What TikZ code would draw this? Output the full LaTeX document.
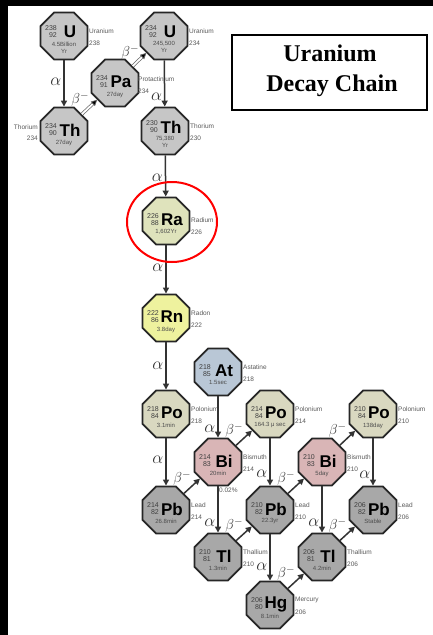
\documentclass[tikz,border=0pt]{standalone}
\usepackage{fontspec}
\setmainfont{Liberation Sans}
\newfontfamily\titlefont{Liberation Serif}
\usetikzlibrary{shapes.geometric,arrows.meta,calc}
\definecolor{grayA}{HTML}{C6C6C6}
\definecolor{grayB}{HTML}{A8A8A8}
\definecolor{raC}{HTML}{DFE3BC}
\definecolor{rnC}{HTML}{EEF29E}
\definecolor{atC}{HTML}{B9C7D6}
\definecolor{poC}{HTML}{D9D8C0}
\definecolor{biC}{HTML}{D9B5B6}
\definecolor{txtC}{HTML}{5A5A5A}
\definecolor{lnC}{HTML}{333333}
\tikzset{
  oct/.style={regular polygon, regular polygon sides=8, minimum size=51pt, inner sep=0pt, draw=black!85, line width=1.8pt},
  mnum/.style={inner sep=0pt, text=black!75, font=\fontsize{7}{7.5}\selectfont},
  sym/.style={inner sep=0pt, text=black, font=\bfseries\fontsize{17}{17}\selectfont},
  hlt/.style={inner sep=0pt, text=black!70, align=center, font=\fontsize{6}{7}\selectfont},
  nlab/.style={inner sep=0pt, text=txtC, font=\fontsize{6.5}{7}\selectfont},
  aarr/.style={draw=lnC, line width=1.5pt, -{Triangle[length=6pt,width=6pt]}},
  barr/.style={draw=lnC, line width=1.5pt, -{Triangle[length=6pt,width=6pt]}},
  harr/.style={draw=black!60, line width=0.7pt, double=white, double distance=1.8pt, -{Triangle[length=6pt,width=6pt,fill=black]}},
  alab/.style={left=2pt, inner sep=0pt, text=lnC, font=\fontsize{16}{16}\selectfont},
  blab/.style={above left=0pt, inner sep=0pt, text=lnC, font=\fontsize{15}{15}\selectfont},
}
% #1 vertical shift, #2 name, #3 x, #4 y, #5 fill, #6 mass, #7 Z, #8 symbol, #9 half-life
\newcommand{\octa}[9][0]{%
  \node[oct, fill=#5] (#2) at (#3,#4) {};
  \node[mnum, anchor=east] (#2m) at ($(#2)+(-7,{-5+(#1)})$) {#6};
  \node[mnum, anchor=east] (#2z) at ($(#2)+(-7,{2.5+(#1)})$) {#7};
  \node[sym] (#2s) at ($(#2)+(6,{-1+(#1)})$) {#8};
  \node[hlt, anchor=north] (#2h) at ($(#2)+(0,{8.5+(#1)})$) {#9};
}
\newcommand{\rlab}[3]{%
  \node[nlab, anchor=west] (#1n) at ($(#1)+(25,-5)$) {#2};
  \node[nlab, anchor=west] (#1a) at ($(#1)+(25,7)$) {#3};
}
\newcommand{\llab}[3]{%
  \node[nlab, anchor=east] (#1n) at ($(#1)+(-26,-4)$) {#2};
  \node[nlab, anchor=east] (#1a) at ($(#1)+(-26,7)$) {#3};
}
\begin{document}
\begin{tikzpicture}[x=1pt,y=-1pt]
\useasboundingbox (0,0) rectangle (433,635);
\fill[white] (0,0) rectangle (433,635);
\fill[black] (0,0) rectangle (433,6);
\fill[black] (0,0) rectangle (8,635);

% title
\draw[black, line width=1.2pt] (232,35) rectangle (427,110);
\node[inner sep=0pt, font=\titlefont\bfseries\fontsize{24}{26}\selectfont] (t1) at (330,53) {Uranium};
\node[inner sep=0pt, font=\titlefont\bfseries\fontsize{24}{26}\selectfont] (t2) at (332,86) {Decay Chain};

% elements
\octa[-3]{U238}{64}{36}{grayA}{238}{92}{U}{4.5Billion\\Yr}
\octa{Th234}{64}{131}{grayA}{234}{90}{Th}{27day}
\octa{Pa234}{115}{83}{grayA}{234}{91}{Pa}{27day}
\octa[-3]{U234}{164}{36}{grayA}{234}{92}{U}{245,500\\Yr}
\octa[-3]{Th230}{165}{131}{grayA}{230}{90}{Th}{75,380\\Yr}
\octa{Ra226}{166}{221}{raC}{226}{88}{Ra}{1,602Yr}
\octa{Rn222}{166}{318}{rnC}{222}{86}{Rn}{3.8day}
\octa{At218}{218}{372}{atC}{218}{85}{At}{1.5sec}
\octa{Po218}{166}{414}{poC}{218}{84}{Po}{3.1min}
\octa{Po214}{270}{414}{poC}{214}{84}{Po}{164.3 μ sec}
\octa{Po210}{373}{414}{poC}{210}{84}{Po}{138day}
\octa{Bi214}{218}{462}{biC}{214}{83}{Bi}{20min}
\octa{Bi210}{322}{462}{biC}{210}{83}{Bi}{5day}
\octa{Pb214}{166}{510}{grayB}{214}{82}{Pb}{26.8min}
\octa{Pb210}{270}{510}{grayB}{210}{82}{Pb}{22.3yr}
\octa{Pb206}{373}{510}{grayB}{206}{82}{Pb}{Stable}
\octa{Tl210}{218}{557}{grayB}{210}{81}{Tl}{1.3min}
\octa{Tl206}{322}{557}{grayB}{206}{81}{Tl}{4.2min}
\octa{Hg206}{270}{605}{grayB}{206}{80}{Hg}{8.1min}

% names
\rlab{U238}{Uranium}{238}
\llab{Th234}{Thorium}{234}
\node[nlab, anchor=west] (Pa234n) at ($(Pa234)+(23,-4)$) {Protactinium};
\node[nlab, anchor=west] (Pa234a) at ($(Pa234)+(23,8)$) {234};
\rlab{U234}{Uranium}{234}
\rlab{Th230}{Thorium}{230}
\node[nlab, anchor=west] (Ra226n) at ($(Ra226)+(25,-1)$) {Radium};
\node[nlab, anchor=west] (Ra226a) at ($(Ra226)+(25,11)$) {226};
\rlab{Rn222}{Radon}{222}
\rlab{At218}{Astatine}{218}
\rlab{Po218}{Polonium}{218}
\rlab{Po214}{Polonium}{214}
\rlab{Po210}{Polonium}{210}
\rlab{Bi214}{Bismuth}{214}
\rlab{Bi210}{Bismuth}{210}
\rlab{Pb214}{Lead}{214}
\rlab{Pb210}{Lead}{210}
\rlab{Pb206}{Lead}{206}
\rlab{Tl210}{Thallium}{210}
\rlab{Tl206}{Thallium}{206}
\rlab{Hg206}{Mercury}{206}
\node[nlab, anchor=west] (br) at (219,490) {0.02\%};

% alpha decays
\draw[aarr] (U238) -- node[alab, pos=.47]{$\alpha$} (Th234);
\draw[aarr] (U234) -- node[alab, pos=.78]{$\alpha$} (Th230);
\draw[aarr] (Th230) -- node[alab, pos=.55]{$\alpha$} (Ra226);
\draw[aarr] (Ra226) -- node[alab, pos=.47]{$\alpha$} (Rn222);
\draw[aarr] (Rn222) -- node[alab, pos=.5]{$\alpha$} (Po218);
\draw[aarr] (Po218) -- node[alab, pos=.45]{$\alpha$} (Pb214);
\draw[aarr] (At218) -- node[alab, pos=.78]{$\alpha$} (Bi214);
\draw[aarr] (Bi214) -- node[alab, pos=.78]{$\alpha$} (Tl210);
\draw[aarr] (Po214) -- node[alab, pos=.75]{$\alpha$} (Pb210);
\draw[aarr] (Bi210) -- node[alab, pos=.78]{$\alpha$} (Tl206);
\draw[aarr] (Po210) -- node[alab, pos=.78]{$\alpha$} (Pb206);
\draw[aarr] (Pb210) -- node[alab, pos=.7]{$\alpha$} (Hg206);

% beta decays
\draw[harr] (Th234) -- node[blab, pos=.5]{$\beta^-$} (Pa234);
\draw[harr] (Pa234) -- node[blab, pos=.5]{$\beta^-$} (U234);
\draw[barr] (Pb214) -- node[blab, pos=.5]{$\beta^-$} (Bi214);
\draw[barr] (Bi214) -- node[blab, pos=.5]{$\beta^-$} (Po214);
\draw[barr] (Pb210) -- node[blab, pos=.5]{$\beta^-$} (Bi210);
\draw[barr] (Bi210) -- node[blab, pos=.5]{$\beta^-$} (Po210);
\draw[barr] (Tl210) -- node[blab, pos=.5]{$\beta^-$} (Pb210);
\draw[barr] (Tl206) -- node[blab, pos=.5]{$\beta^-$} (Pb206);
\draw[barr] (Hg206) -- node[blab, pos=.5]{$\beta^-$} (Tl206);

% highlight
\draw[red, line width=2pt] (172,222) ellipse [x radius=45pt, y radius=40pt];
\end{tikzpicture}
\end{document}
